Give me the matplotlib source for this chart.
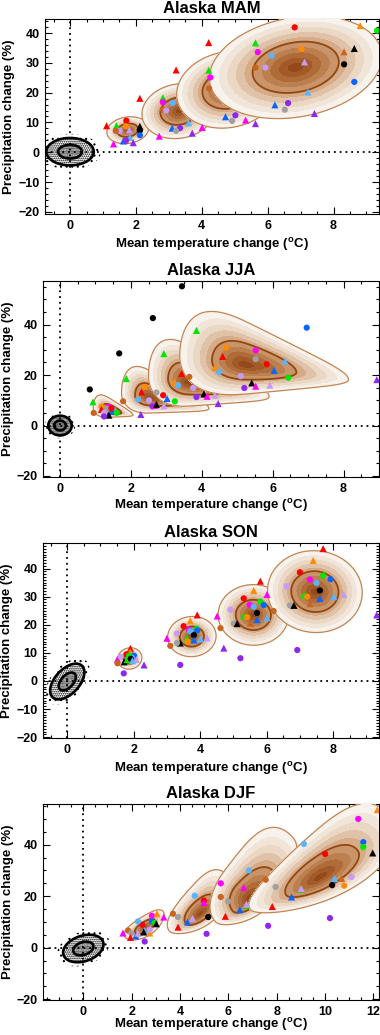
import numpy as np
import matplotlib
matplotlib.use('Agg')
import matplotlib.pyplot as plt
from matplotlib.colors import LinearSegmentedColormap
from matplotlib.ticker import MultipleLocator

plt.rcParams['font.family'] = ['Liberation Sans', 'DejaVu Sans']
plt.rcParams['font.weight'] = 'bold'
plt.rcParams['mathtext.fontset'] = 'custom'
plt.rcParams['mathtext.bf'] = 'Liberation Sans:bold'
plt.rcParams['mathtext.rm'] = 'Liberation Sans:bold'
plt.rcParams['hatch.linewidth'] = 0.8

# ---------------- data ----------------
seasons = ['MAM', 'JJA', 'SON', 'DJF']
x_limits = [(-0.76, 9.38), (-0.48, 9.0), (-0.73, 9.38), (-1.67, 12.24)]
y_limits = [(-20.7, 44.7), (-20.4, 57.3), (-20.3, 49.1), (-20.3, 55.8)]
x_ticks = [[0, 2, 4, 6, 8], [0, 2, 4, 6, 8], [0, 2, 4, 6, 8], [0, 2, 4, 6, 8, 10, 12]]
y_ticks = [[-20, -10, 0, 10, 20, 30, 40], [-20, 0, 20, 40], [-20, -10, 0, 10, 20, 30, 40], [-20, 0, 20, 40]]
y_minor = [2, 5, 1, 5]

# natural variability ellipses: centre, axis vectors
nv_center = [(0.0, 0.2), (0.0, 0.0), (0.0, -0.2), (0.0, -0.3)]
nv_u = [(0.72, 0.0), (0.33, 0.0), (0.45, 5.5), (0.78, 3.3)]
nv_v = [(0.0, 4.6), (0.0, 3.9), (-0.25, 3.2), (-0.3, 4.2)]

# projected distributions per period: centre, main axis, cross axis, shape (an, bn, bend, taper)
mam_center = [(1.75, 7.4), (3.3, 13.8), (4.8, 21.0), (6.85, 28.5)]
mam_u = [(0.63, 1.0), (1.11, 2.0), (1.55, 3.2), (2.6, 5.5)]
mam_v = [(-0.05, 4.4), (-0.12, 9.0), (-0.2, 12.5), (-0.3, 16.3)]
mam_shape = [(1, 1, 0, 0), (1, 1, 0, 0), (1, 1, 0, 0), (1, 1, 0, 0)]

jja_center = [(1.4, 5.8), (2.5, 11.0), (3.6, 17.0), (5.2, 24.0)]
jja_u = [(0.66, -1.7), (1.7, -4.3), (2.3, -5.6), (2.94, -5.8)]
jja_v = [(0.0, 5.0), (0.0, 11.0), (0.0, 15.0), (0.0, 17.5)]
jja_shape = [(0.7, 0.5, 0, 0.8), (0.45, 0.55, 0, 0.8), (0.48, 0.62, 0, 0.8), (0.62, 0.66, 0, 0.8)]

son_center = [(1.88, 8.0), (3.75, 15.8), (5.6, 23.5), (7.45, 31.8)]
son_u = [(0.36, 0.9), (0.7, 2.2), (1.0, 3.5), (1.38, 3.2)]
son_v = [(-0.06, 3.7), (-0.2, 6.8), (-0.35, 10.2), (-0.35, 14.2)]
son_shape = [(1, 1, 0, 0), (1, 1, 0, 0), (1, 1, 0, 0), (1, 1, 0, 0)]

djf_center = [(2.55, 8.0), (4.85, 13.0), (6.85, 19.0), (9.8, 27.3)]
djf_u = [(0.83, 5.0), (1.46, 11.3), (2.29, 18.7), (3.29, 18.1)]
djf_v = [(-0.23, 3.3), (-0.66, 7.6), (-1.0, 11.0), (-0.81, 12.9)]
djf_shape = [(0.93, 0.9, 0.3, 0), (0.76, 0.5, 0.45, -0.3), (0.55, 0.5, 0.45, -0.4), (0.83, 0.62, 0.31, -0.5)]

# model projections (x, y, colour+marker)
mam_points = [
    (1.11, 8.9, 'r^'), (1.41, 8.9, 'g^'), (1.71, 10.6, 'ro'), (1.70, 8.7, 'oo'), (2.12, 8.7, 'k^'),
    (2.12, 7.3, 'ko'), (2.12, 5.7, 'bo'), (1.51, 7.2, 'lo'), (1.80, 7.5, 'l^'), (1.39, 7.2, 'no'),
    (1.82, 5.0, 'c^'), (1.62, 3.8, 'b^'), (1.92, 3.2, 'p^'), (1.70, 3.9, 'po'), (1.32, 2.8, 'm^'),
    (2.12, 18.1, 'r^'),
    (3.22, 27.6, 'r^'), (2.82, 18.3, 'g^'), (2.82, 16.8, 'mo'), (2.82, 14.3, 'no'), (2.92, 14.0, 'lo'),
    (3.12, 16.5, 'co'), (3.10, 8.1, 'b^'), (3.34, 8.1, 'po'), (3.22, 7.2, 'ao'), (3.60, 9.9, 'c^'),
    (3.71, 6.4, 'p^'), (2.71, 5.4, 'm^'), (4.01, 8.3, 'm^'),
    (4.21, 36.8, 'r^'), (4.21, 27.5, 'g^'), (4.26, 25.1, 'mo'), (4.22, 21.4, 'no'), (4.72, 11.9, 'b^'),
    (5.02, 12.4, 'po'), (4.92, 10.5, 'ao'), (5.33, 10.8, 'm^'), (5.63, 9.6, 'p^'),
    (6.82, 41.9, 'ro'), (8.81, 42.5, 'o^'), (9.32, 40.8, 'go'), (5.63, 36.7, 'g^'), (5.70, 33.6, 'mo'),
    (6.12, 32.4, 'co'), (7.03, 34.6, 'oo'), (8.32, 33.7, 'n^'), (8.63, 34.8, 'k^'), (8.32, 29.5, 'ko'),
    (5.63, 28.4, 'no'), (5.93, 28.4, 'lo'), (7.12, 30.3, 'l^'), (8.63, 23.6, 'bo'), (7.22, 20.2, 'c^'),
    (6.22, 15.9, 'b^'), (6.62, 16.5, 'po'), (6.52, 14.3, 'ao'), (7.42, 13.0, 'p^'),
]
jja_points = [
    (0.84, 14.3, 'ko'), (1.67, 28.6, 'ko'), (2.62, 42.6, 'ko'), (3.44, 55.2, 'ko'),
    (0.93, 9.4, 'g^'), (0.95, 5.0, 'no'), (1.17, 7.5, 'oo'), (1.17, 6.4, 'r^'), (1.38, 7.4, 'mo'),
    (1.33, 6.6, 'ao'), (1.24, 5.0, 'lo'), (1.55, 6.3, 'c^'), (1.47, 5.6, 'b^'), (1.60, 5.0, 'go'),
    (1.38, 4.1, 'k^'), (1.24, 3.6, 'po'), (1.45, 6.8, 'ro'), (1.78, 9.6, 'no'), (2.28, 4.4, 'p^'),
    (1.87, 18.6, 'g^'),
    (2.39, 15.3, 'oo'), (2.30, 13.3, 'r^'), (2.20, 11.3, 'o^'), (2.20, 10.3, 'co'), (2.51, 10.0, 'lo'),
    (2.61, 7.6, 'po'), (2.68, 8.0, 'm^'), (2.72, 8.4, 'k^'), (2.72, 13.1, 'ao'), (2.91, 12.0, 'ro'),
    (3.02, 10.7, 'b^'), (3.24, 9.6, 'go'), (2.93, 7.8, 'l^'), (2.93, 28.5, 'g^'),
    (3.43, 20.6, 'r^'), (3.24, 17.3, 'o^'), (3.33, 16.0, 'co'), (3.65, 19.3, 'no'), (3.76, 14.9, 'lo'),
    (3.85, 11.3, 'po'), (4.06, 12.5, 'k^'), (4.15, 11.6, 'm^'), (4.37, 12.0, 'l^'), (4.46, 8.7, 'p^'),
    (3.85, 37.7, 'g^'),
    (4.68, 30.9, 'oo'), (4.59, 27.4, 'r^'), (4.37, 23.0, 'o^'), (4.49, 21.2, 'co'), (5.52, 29.8, 'mo'),
    (5.52, 26.3, 'ao'), (5.83, 24.3, 'ro'), (6.04, 21.9, 'b^'), (6.35, 25.6, 'c^'), (6.44, 19.0, 'go'),
    (5.10, 19.6, 'lo'), (5.20, 14.9, 'po'), (5.41, 16.9, 'k^'), (5.52, 15.6, 'm^'), (5.92, 16.0, 'l^'),
    (6.96, 38.8, 'bo'), (8.94, 18.2, 'p^'),
]
son_points = [
    (1.90, 11.6, 'r^'), (1.89, 10.3, 'o^'), (1.51, 7.8, 'm^'), (1.51, 6.3, 'no'), (1.71, 6.8, 'k^'),
    (1.70, 2.7, 'po'), (2.31, 5.7, 'p^'), (1.61, 8.6, 'lo'), (1.78, 9.5, 'ro'), (2.01, 9.0, 'bo'),
    (1.94, 8.3, 'co'), (1.86, 9.0, 'go'), (1.80, 7.6, 'g^'), (1.91, 7.9, 'ko'), (2.08, 7.6, 'l^'),
    (1.96, 7.2, 'c^'),
    (3.91, 23.5, 'r^'), (3.70, 21.4, 'o^'), (3.00, 15.2, 'm^'), (3.50, 19.5, 'ro'), (3.30, 16.9, 'lo'),
    (3.66, 18.3, 'mo'), (3.70, 17.7, 'co'), (3.90, 18.6, 'go'), (3.91, 18.0, 'bo'), (3.81, 16.3, 'ko'),
    (3.60, 15.2, 'g^'), (3.81, 14.6, 'b^'), (4.01, 14.9, 'c^'), (4.21, 15.3, 'l^'), (3.40, 13.5, 'k^'),
    (3.30, 13.5, 'ao'), (3.10, 12.5, 'no'), (3.62, 14.0, 'oo'), (3.40, 5.7, 'po'), (4.71, 11.7, 'p^'),
    (4.61, 18.8, 'no'), (4.51, 23.1, 'm^'),
    (5.81, 35.5, 'r^'), (5.61, 32.2, 'o^'), (6.01, 30.8, 'm^'), (5.31, 29.4, 'ro'), (5.81, 28.2, 'go'),
    (5.49, 27.1, 'mo'), (5.61, 26.4, 'co'), (5.91, 27.0, 'bo'), (4.91, 25.4, 'lo'), (5.71, 24.2, 'ko'),
    (5.31, 23.2, 'g^'), (5.41, 22.7, 'oo'), (5.71, 21.8, 'b^'), (6.01, 22.5, 'c^'), (5.51, 20.6, 'n^'),
    (5.01, 20.4, 'ao'), (5.11, 20.4, 'k^'), (6.21, 24.9, 'no'), (5.21, 8.1, 'po'),
    (7.70, 47.1, 'r^'), (7.40, 42.9, 'o^'), (7.00, 38.7, 'ro'), (7.30, 36.1, 'mo'), (7.70, 37.5, 'go'),
    (7.92, 36.2, 'bo'), (7.50, 34.9, 'co'), (7.60, 32.2, 'ko'), (6.60, 33.7, 'lo'), (7.12, 30.6, 'g^'),
    (7.22, 30.0, 'oo'), (7.60, 29.4, 'b^'), (8.02, 30.0, 'c^'), (8.32, 30.8, 'l^'), (7.30, 27.5, 'n^'),
    (6.70, 26.9, 'ao'), (6.82, 26.9, 'k^'), (6.92, 11.0, 'po'), (9.31, 23.5, 'p^'),
]
djf_points = [
    (1.64, 5.7, 'm^'), (1.85, 6.7, 'no'), (1.99, 5.7, 'ao'), (1.95, 4.0, 'r^'), (2.44, 8.9, 'ro'),
    (2.26, 10.2, 'co'), (2.17, 4.6, 'b^'), (2.26, 5.6, 'l^'), (2.54, 6.7, 'c^'), (2.50, 6.1, 'k^'),
    (2.75, 5.7, 'o^'), (2.75, 7.0, 'lo'), (2.84, 12.4, 'mo'), (2.84, 10.2, 'bo'), (2.95, 9.6, 'go'),
    (3.02, 9.3, 'k^'), (3.05, 13.2, 'o^'), (3.33, 11.9, 'm^'), (2.54, 2.4, 'po'),
    (3.71, 13.2, 'no'), (3.92, 11.9, 'ao'), (3.92, 8.0, 'r^'), (4.31, 10.0, 'b^'), (4.52, 11.4, 'l^'),
    (4.61, 20.2, 'co'), (4.99, 18.3, 'ro'), (4.99, 17.5, 'm^'), (5.17, 11.9, 'ko'), (5.10, 5.4, 'po'),
    (5.69, 25.0, 'mo'), (5.69, 19.7, 'no'), (5.99, 18.0, 'ao'), (5.88, 12.2, 'r^'),
    (6.64, 23.4, 'm^'), (6.48, 14.8, 'b^'), (6.75, 16.4, 'g^'), (6.75, 16.9, 'l^'), (6.86, 30.0, 'co'),
    (7.55, 26.4, 'no'), (7.96, 23.6, 'ao'), (7.82, 16.0, 'r^'), (7.65, 8.5, 'po'), (8.62, 19.7, 'b^'),
    (9.13, 40.3, 'co'), (10.01, 36.4, 'ro'),
    (9.02, 22.7, 'g^'), (9.02, 23.0, 'l^'), (10.4, 26.9, 'c^'), (10.69, 26.9, 'n^'), (11.1, 27.5, 'lo'),
    (10.3, 24.3, 'ko'), (10.8, 24.1, 'oo'), (11.38, 50.0, 'mo'), (11.59, 41.0, 'bo'), (11.59, 39.1, 'go'),
    (11.98, 36.8, 'k^'), (12.17, 53.6, 'o^'), (10.21, 11.5, 'po'),
]

centers = [mam_center, jja_center, son_center, djf_center]
u_axes = [mam_u, jja_u, son_u, djf_u]
v_axes = [mam_v, jja_v, son_v, djf_v]
shapes = [mam_shape, jja_shape, son_shape, djf_shape]
points = [mam_points, jja_points, son_points, djf_points]

# ---------------- style ----------------
COL = {'r': '#ff0000', 'g': '#00e600', 'o': '#ff8c00', 'k': '#000000', 'b': '#0a64ff',
       'c': '#5ab4ff', 'm': '#ff00ff', 'p': '#8c28f0', 'l': '#c89bf5', 'n': '#c8641e',
       'a': '#a0a0a0'}
brown = LinearSegmentedColormap.from_list(
    'br', ['#94491a', '#b3703c', '#cf9f78', '#e8d4c0', '#f8f2ec'])
levels = np.linspace(0, 1, 11)
band_colors = [brown(i / 9) for i in range(10)]

rects = [(45/380, 1-214/1035, 334/380, 195/1035),
         (43/380, 1-477/1035, 336/380, 196/1035),
         (43/380, 1-738/1035, 336/380, 195/1035),
         (43/380, 1-1000/1035, 336/380, 196/1035)]
xlabel_pad = [3, 2, 3, -1]


def shape_r(X, Y, c, u, v, sh):
    an, bn, kap, k = sh
    dx = X - c[0]
    dy = Y - c[1]
    det = u[0]*v[1] - u[1]*v[0]
    p = (dx*v[1] - dy*v[0]) / det
    q = (u[0]*dy - u[1]*dx) / det
    q = q - kap*p**2
    pn = np.where(p < 0, p/an, p)
    qn = np.where(q < 0, q/bn, q)
    return np.sqrt(pn**2 + (qn*np.exp(np.clip(k*p, -20, 20)))**2)


fig = plt.figure(figsize=(3.8, 10.35), dpi=100)
for i, s in enumerate(seasons):
    ax = fig.add_axes(rects[i])
    xl, yl = x_limits[i], y_limits[i]
    gx = np.linspace(xl[0], xl[1], 500)
    gy = np.linspace(yl[0], yl[1], 500)
    X, Y = np.meshgrid(gx, gy)

    # natural variability cloud
    Rn = shape_r(X, Y, nv_center[i], nv_u[i], nv_v[i], (1, 1, 0, 0))
    dens = '........' if i == 1 else '......'
    ax.contourf(X, Y, Rn, levels=[0, 0.5, 1.0, 1.3], colors='none',
                hatches=[dens + '....', dens + '..', '...'], zorder=2)
    ax.contour(X, Y, Rn, levels=[0.5, 1.0], colors='k', linewidths=1.9, zorder=2.1)

    # projected distributions
    for j in range(len(centers[i])):
        R = shape_r(X, Y, centers[i][j], u_axes[i][j], v_axes[i][j], shapes[i][j])
        ax.contourf(X, Y, R, levels=levels, colors=band_colors, zorder=3)
        ax.contour(X, Y, R, levels=[1.0], colors='#c38553', linewidths=0.9, zorder=3)
        ax.contour(X, Y, R, levels=[0.5], colors='#93470f', linewidths=1.3, zorder=3)

    for (px, py, code) in points[i]:
        mk = code[1]
        ax.scatter(px, py, s=26 if mk == '^' else 20, c=COL[code[0]], marker=mk,
                   edgecolors='none', zorder=5, clip_on=True)

    ax.axvline(0, color='k', lw=1.3, ls=(0, (1, 2.2)), zorder=1)
    ax.axhline(0, color='k', lw=1.3, ls=(0, (1, 2.2)), zorder=1)

    ax.set_xlim(xl)
    ax.set_ylim(yl)
    ax.set_xticks(x_ticks[i])
    ax.set_yticks(y_ticks[i])
    ax.xaxis.set_minor_locator(MultipleLocator(0.5))
    ax.yaxis.set_minor_locator(MultipleLocator(y_minor[i]))
    ax.tick_params(which='both', direction='in', top=True, right=True, labelsize=9, width=0.8)
    ax.tick_params(which='major', length=5, pad=4)
    ax.tick_params(which='minor', length=2.5)
    for sp in ax.spines.values():
        sp.set_linewidth(0.8)
    ax.set_title('Alaska ' + s, fontsize=12, fontweight='bold', pad=4)
    ax.set_xlabel('Mean temperature change ($^{\\mathbf{o}}$C)', fontsize=9.5, fontweight='bold',
                  labelpad=xlabel_pad[i])
    ax.set_ylabel('Precipitation change (%)', fontsize=9.5, fontweight='bold', labelpad=2)

fig.savefig('out.png', dpi=100)
